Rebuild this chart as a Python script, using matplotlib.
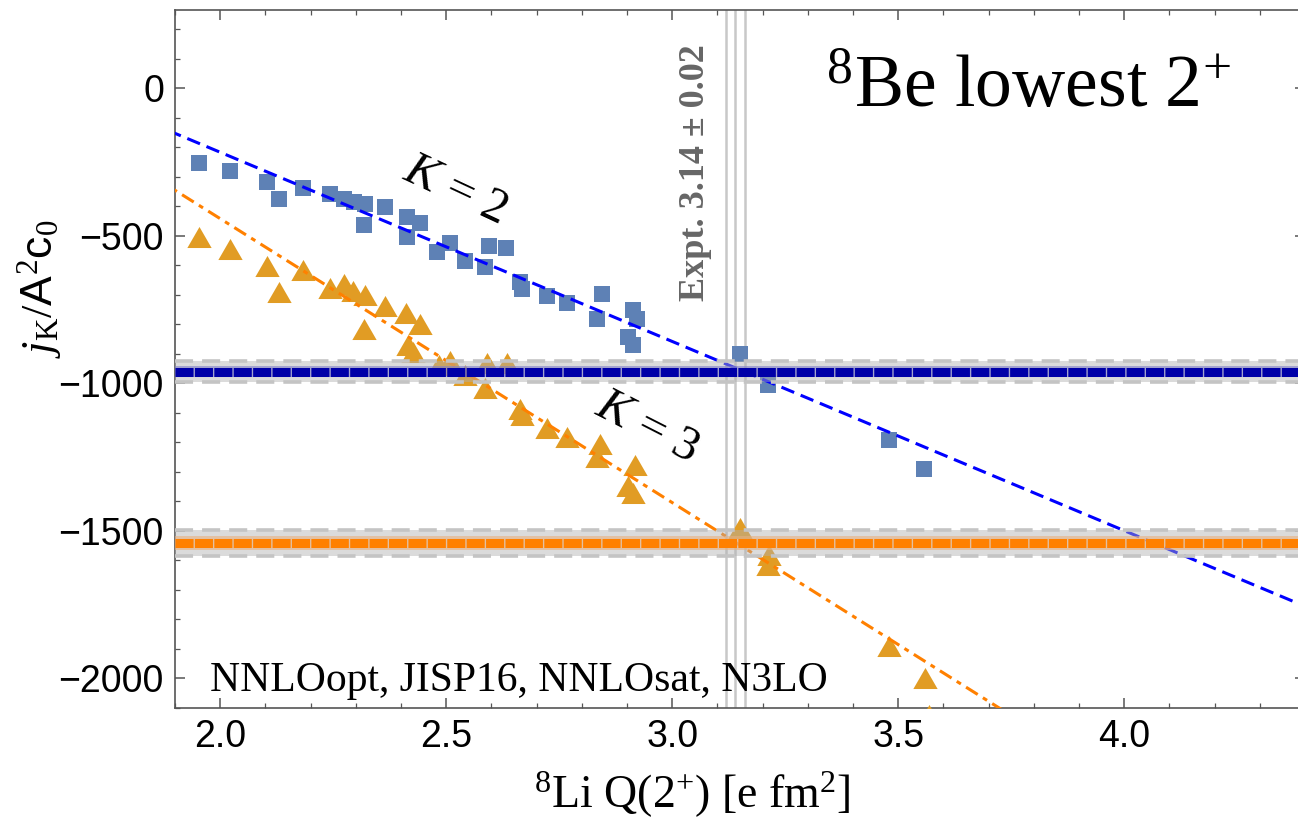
import numpy as np
import matplotlib
matplotlib.use("Agg")
import matplotlib.pyplot as plt
from matplotlib.ticker import MultipleLocator, FormatStrFormatter

# 8Li quadrupole moment for each calculation (same for both K)
q_k2 = [1.952, 2.022, 2.103, 2.131, 2.183, 2.243, 2.273, 2.295, 2.321, 2.319,
        2.365, 2.413, 2.442, 2.414, 2.479, 2.509, 2.542, 2.586, 2.594, 2.633,
        2.664, 2.667, 2.723, 2.767, 2.833, 2.844, 2.914, 2.922, 2.903, 2.914,
        3.150, 3.213, 3.479, 3.558]
jk_k2 = [-255, -280, -318, -374, -337, -357, -374, -385, -393, -464,
         -402, -438, -457, -504, -555, -526, -585, -606, -536, -540,
         -657, -682, -704, -728, -781, -696, -753, -781, -843, -871,
         -899, -1007, -1193, -1289]

q_k3 = [1.952, 2.022, 2.103, 2.131, 2.183, 2.243, 2.273, 2.294, 2.321, 2.319,
        2.365, 2.412, 2.442, 2.416, 2.427, 2.483, 2.509, 2.542, 2.586, 2.591,
        2.634, 2.664, 2.667, 2.723, 2.767, 2.841, 2.833, 2.918, 2.903, 2.914,
        3.150, 3.215, 3.213, 3.479, 3.560, 3.569]
jk_k3 = [-503, -546, -604, -690, -616, -677, -664, -686, -699, -815,
         -738, -763, -799, -871, -895, -937, -924, -973, -1015, -931,
         -932, -1088, -1108, -1151, -1181, -1207, -1251, -1276, -1347, -1373,
         -1491, -1580, -1617, -1889, -1998, -2124]

# linear fits (slope, intercept)
fit_k2 = (-641, 1065)
fit_k3 = (-962, 1482)

# extrapolated values (center, half width)
band_k2 = (-960, 36)
band_k3 = (-1542, 44)

# experiment 3.14 +- 0.02
expt_q = [3.12, 3.14, 3.16]

plt.rcParams['mathtext.fontset'] = 'custom'
plt.rcParams['mathtext.rm'] = 'Liberation Serif'
plt.rcParams['mathtext.it'] = 'Liberation Serif:italic'
plt.rcParams['mathtext.bf'] = 'Liberation Serif:bold'
plt.rcParams['mathtext.sf'] = 'Liberation Sans'
plt.rcParams['font.family'] = 'Liberation Sans'

fig = plt.figure(figsize=(12.98, 8.25), dpi=100)
ax = fig.add_axes([175/1298, 1 - 708/825, 1130/1298, 698/825])

ax.set_xlim(1.9, 4.4)
ax.set_ylim(-2100, 265)

for q in expt_q:
    ax.axvline(q, color='#c8c8c8', lw=1.8, zorder=1)

# data points
ax.plot(q_k2, jk_k2, ls='none', marker='s', ms=11.5, mew=0, color='#5E81B5', zorder=3)
tri = [(0, 0.866), (-1, -0.866), (1, -0.866)]
ax.plot(q_k3, jk_k3, ls='none', marker=tri, ms=17.5, mew=0, color='#E19C24', zorder=3)

# fit lines
xx = np.array([1.8, 4.5])
ax.plot(xx, fit_k2[0]*xx + fit_k2[1], color='#0000FF', lw=2.2, dashes=(4.5, 2.3), zorder=4)
ax.plot(xx, fit_k3[0]*xx + fit_k3[1], color='#FF8000', lw=2.2,
        dashes=(4.5, 2.0, 1.6, 2.0), zorder=4)

# bands
for (c, w), core, halo in [(band_k2, '#0000A8', '#8080C8'), (band_k3, '#FF8000', '#E8B080')]:
    ax.axhspan(c - w, c + w, color='#b0b0b0', alpha=0.45, lw=0, zorder=5)
    ax.axhspan(c - 0.55*w, c + 0.55*w, color=halo, alpha=0.6, lw=0, zorder=5)
    for s in (-1, 1):
        ax.axhline(c + s*w, color='#c4c4c4', lw=2.6, dashes=(5, 2.5), zorder=5)
    ax.axhline(c, color=core, lw=6.5, dashes=(2.0, 0.15), solid_capstyle='butt',
               dash_capstyle='butt', zorder=6)

# texts
ax.text(2.52, -345, r'$K$ = 2', fontsize=35, rotation=-25, ha='center', va='center',
        family='Liberation Serif', rotation_mode='anchor')
ax.text(2.945, -1150, r'$K$ = 3', fontsize=35, rotation=-27, ha='center', va='center',
        family='Liberation Serif', rotation_mode='anchor')
ax.text(3.341, -64, r'$^{8}$Be lowest 2$^{+}$', fontsize=53, ha='left', va='baseline',
        family='Liberation Serif')
ax.text(1.978, -2041, 'NNLOopt, JISP16, NNLOsat, N3LO', fontsize=30, ha='left',
        va='baseline', family='Liberation Serif')
ax.text(3.051, -285, 'Expt. 3.14 \u00b1 0.02', fontsize=26, rotation=90, ha='center',
        va='center', family='Liberation Serif', fontweight='bold', color='#666666')

ax.set_xlabel(r'$^{8}$Li Q(2$^{+}$) [e fm$^{2}$]', fontsize=33, family='Liberation Serif')
ax.xaxis.set_label_coords(0.458, -0.088)
ax.set_ylabel(r'$j_{\mathrm{K}}/\mathsf{A}^{2}\mathsf{c}_{0}$', fontsize=32)
ax.yaxis.set_label_coords(-0.098, 0.60)

ax.xaxis.set_major_locator(MultipleLocator(0.5))
ax.xaxis.set_minor_locator(MultipleLocator(0.1))
ax.xaxis.set_major_formatter(FormatStrFormatter('%.1f'))
ax.yaxis.set_major_locator(MultipleLocator(500))
ax.yaxis.set_minor_locator(MultipleLocator(100))

ax.tick_params(which='both', direction='in', top=True, right=True, color='#555555',
               labelsize=27)
ax.tick_params(which='major', length=7, width=1.1, pad=8)
ax.tick_params(which='minor', length=3.5, width=0.9)
for sp in ax.spines.values():
    sp.set_color('#555555')
    sp.set_linewidth(1.2)

fig.savefig('out.png', dpi=100)
